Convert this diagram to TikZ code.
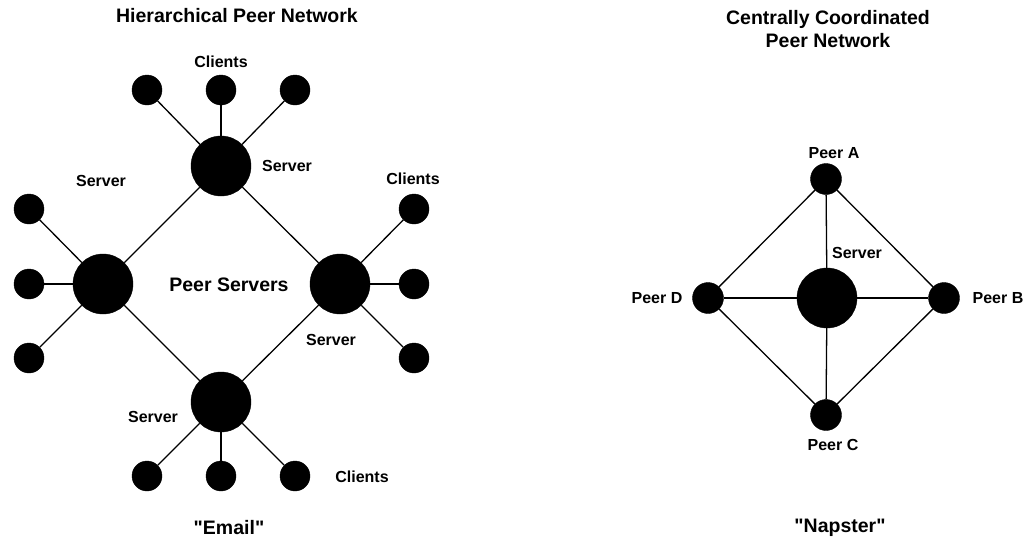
\documentclass[tikz,border=0pt]{standalone}
\usepackage{fontspec}
\setmainfont{Liberation Sans}[Ligatures=TeXOff]
\begin{document}
\begin{tikzpicture}[x=1pt,y=-1pt,
  srv/.style={circle,fill=black,draw=black,inner sep=0pt,minimum size=60pt},
  cli/.style={circle,fill=black,draw=black,inner sep=0pt,minimum size=30pt},
  link/.style={line width=1.3pt,black},
  lbl/.style={font=\fontsize{16}{19}\selectfont\bfseries,inner sep=0pt},
  ttl/.style={font=\fontsize{19.5}{23}\selectfont\bfseries,inner sep=0pt,align=center}]
\useasboundingbox (0,0) rectangle (1029,542);
% ---- left: hierarchical ----
\node[srv] (ST) at (221,166) {};
\node[srv] (SL) at (103,284) {};
\node[srv] (SR) at (340,284) {};
\node[srv] (SB) at (221,402) {};
\node[cli] (T1) at (147,90) {};
\node[cli] (T2) at (221,90) {};
\node[cli] (T3) at (295,90) {};
\node[cli] (L1) at (29,209) {};
\node[cli] (L2) at (29,284) {};
\node[cli] (L3) at (29,358) {};
\node[cli] (R1) at (414,209) {};
\node[cli] (R2) at (414,284) {};
\node[cli] (R3) at (414,358) {};
\node[cli] (B1) at (147,476) {};
\node[cli] (B2) at (221,476) {};
\node[cli] (B3) at (295,476) {};
\foreach \a/\b in {ST/T1,ST/T2,ST/T3,ST/SL,ST/SR,SB/SL,SB/SR,SB/B1,SB/B2,SB/B3,SL/L1,SL/L2,SL/L3,SR/R1,SR/R2,SR/R3}
  \draw[link] (\a) -- (\b);
\node[ttl] (t1) at (237,16) {Hierarchical Peer Network};
\node[lbl] (c1) at (221,62) {Clients};
\node[lbl] (s1) at (287,166) {Server};
\node[lbl] (s2) at (101,181) {Server};
\node[lbl] (c2) at (413,179) {Clients};
\node[ttl] (ps) at (229,285) {Peer Servers};
\node[lbl] (s3) at (331,340) {Server};
\node[lbl] (s4) at (153,417) {Server};
\node[lbl] (c3) at (362,477) {Clients};
\node[ttl] (em) at (229,528) {"Email"};
% ---- right: centrally coordinated ----
\node[cli,minimum size=31pt] (PA) at (826,179) {};
\node[cli,minimum size=31pt] (PB) at (944,298) {};
\node[cli,minimum size=31pt] (PC) at (826,415) {};
\node[cli,minimum size=31pt] (PD) at (708,298) {};
\node[srv] (CS) at (827,298) {};
\foreach \a/\b in {PA/PB,PB/PC,PC/PD,PD/PA,CS/PA,CS/PB,CS/PC,CS/PD}
  \draw[link] (\a) -- (\b);
\node[ttl] (t2) at (828,29) {Centrally Coordinated\\Peer Network};
\node[lbl] (la) at (834,153) {Peer A};
\node[lbl] (lb) at (998,298) {Peer B};
\node[lbl] (lc) at (833,445) {Peer C};
\node[lbl] (ld) at (657,298) {Peer D};
\node[lbl] (ls) at (857,253) {Server};
\node[ttl] (np) at (840,528) {"Napster"};
\end{tikzpicture}
\end{document}
